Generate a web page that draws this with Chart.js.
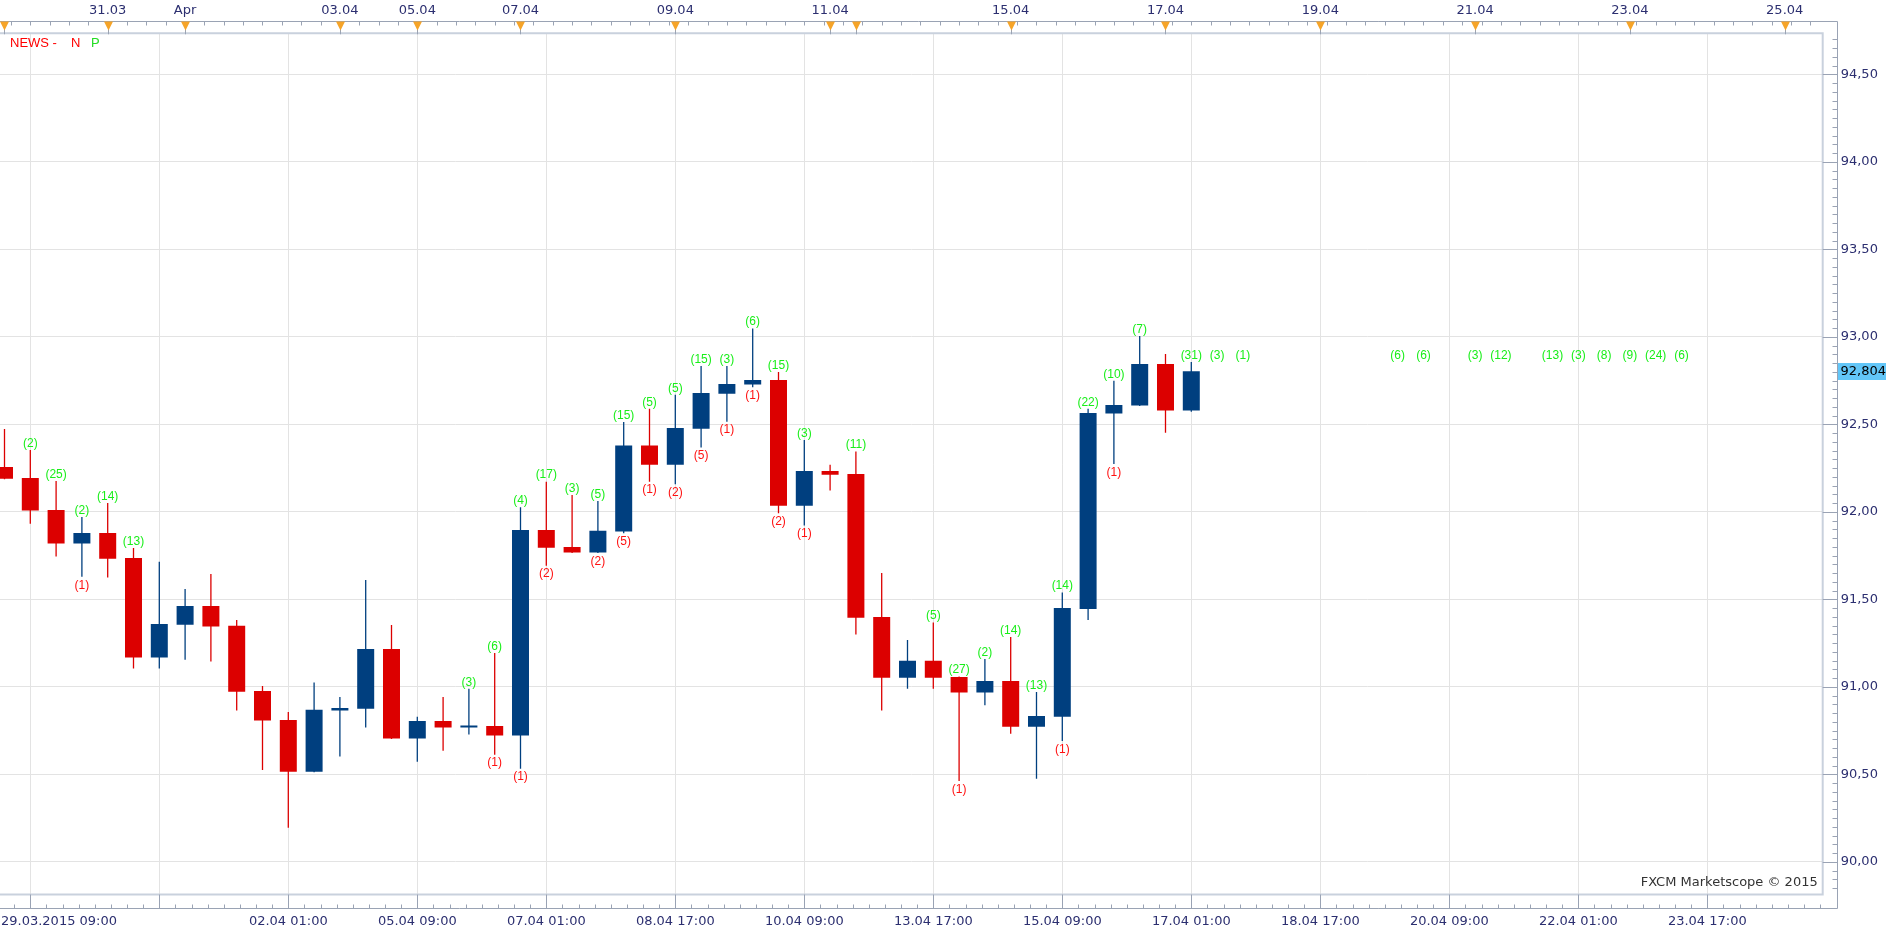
<!DOCTYPE html>
<html>
<head>
<meta charset="utf-8">
<title>NEWS - FXCM Marketscope</title>
<script src="https://cdn.jsdelivr.net/npm/chart.js@4.4.1/dist/chart.umd.min.js"></script>
<style>
html,body{margin:0;padding:0;background:#fff;overflow:hidden}
#wrap{width:1903px;height:937px;position:relative}
</style>
</head>
<body>
<div id="wrap"><canvas id="c"></canvas></div>
<script>
/* DATA (8h candles, x = candle index, first one cut off at the left edge) */
const first=-1;
const opens =[92.257,92.194,92.011,91.819,91.880,91.737,91.168,91.356,91.463,91.349,90.977,90.811,90.516,90.865,90.876,91.217,90.705,90.806,90.768,90.777,90.722,91.897,91.800,91.768,91.888,92.379,92.270,92.476,92.676,92.728,92.754,92.036,92.234,92.217,91.400,91.053,91.149,91.057,90.968,91.034,90.773,90.830,91.446,92.562,92.608,92.846,92.579];
const highs =[92.474,92.354,92.177,91.971,92.051,91.794,91.716,91.560,91.646,91.383,91.006,90.857,91.025,90.943,91.611,91.354,90.830,90.943,90.990,91.194,92.027,92.173,92.097,92.063,92.514,92.589,92.669,92.834,92.834,93.048,92.800,92.411,92.269,92.345,91.651,91.268,91.368,91.060,91.160,91.286,90.971,91.539,92.589,92.749,93.006,92.903,92.857];
const lows  =[92.187,91.933,91.745,91.630,91.625,91.105,91.105,91.156,91.145,90.865,90.526,90.196,90.513,90.602,90.768,90.703,90.573,90.636,90.728,90.613,90.533,91.693,91.766,91.765,91.878,92.173,92.158,92.368,92.516,92.712,91.992,91.922,92.122,91.299,90.865,90.990,90.990,90.463,90.895,90.733,90.476,90.691,91.383,92.274,92.605,92.453,92.573];
const closes=[92.190,92.008,91.819,91.880,91.733,91.168,91.360,91.463,91.345,90.973,90.808,90.516,90.869,90.880,91.217,90.705,90.806,90.768,90.777,90.722,91.897,91.796,91.768,91.893,92.379,92.270,92.480,92.680,92.731,92.754,92.036,92.234,92.213,91.396,91.053,91.149,91.053,90.968,91.034,90.773,90.834,91.451,92.566,92.611,92.846,92.579,92.804];
/* news counts: above the high (green) and below the low (red) */
const newsUp  =[null,2,25,2,14,13,null,null,null,null,null,null,null,null,null,null,null,null,3,6,4,17,3,5,15,5,5,15,3,6,15,3,null,11,null,null,5,27,2,14,13,14,22,10,7,null,31];
const newsDown=[null,null,null,1,null,null,null,null,null,null,null,null,null,null,null,null,null,null,null,1,1,2,null,2,5,1,2,5,1,1,2,1,null,null,null,null,null,1,null,null,null,1,null,1,null,null,null];
const futureIdx =[46,47,53,54,56,57,59,60,61,62,63,64];
const futureNews=[3,1,6,6,3,12,13,3,8,9,24,6];
/* axes */
const gridIdx=[0,5,10,15,20,25,30,35,40,45,50,55,60,65];
const bottomLabels=["29.03.2015 09:00","","02.04 01:00","05.04 09:00","07.04 01:00","08.04 17:00","10.04 09:00","13.04 17:00","15.04 09:00","17.04 01:00","18.04 17:00","20.04 09:00","22.04 01:00","23.04 17:00"];
const topIdx=[3,6,12,15,19,25,31,38,44,50,56,62,68];
const topLabels=["31.03","Apr","03.04","05.04","07.04","09.04","11.04","15.04","17.04","19.04","21.04","23.04","25.04"];
const markIdx=[-1,3,6,12,15,19,25,31,32,38,44,50,56,62,68];
const yTicks=[90,90.5,91,91.5,92,92.5,93,93.5,94,94.5];
const lastPrice=92.804;

/* STYLE */
const RED="#dc0000",BLUE="#003f7f",TXT="#2c2f70",GRID="#e3e3e3",AXIS="#9aa3b4";
const GREEN_T="#19ee19",RED_T="#ff1111";
Chart.defaults.font.family="'DejaVu Sans'";
const col=opens.map((o,i)=>closes[i]>=o?BLUE:RED);
const X=i=>first+i;

/* DECOR PLUGIN */
const decor={
 id:"decor",
 afterDatasetsDraw(chart){
  const {ctx,scales:{x,y}}=chart;
  ctx.save();
  ctx.font="12px 'Liberation Sans'";
  ctx.textAlign="center";ctx.textBaseline="middle";
  newsUp.forEach((n,i)=>{
   if(n==null)return;
   ctx.fillStyle=GREEN_T;
   ctx.fillText("("+n+")",x.getPixelForValue(X(i)),y.getPixelForValue(highs[i])-6.5);
  });
  newsDown.forEach((n,i)=>{
   if(n==null)return;
   ctx.fillStyle=RED_T;
   ctx.fillText("("+n+")",x.getPixelForValue(X(i)),y.getPixelForValue(lows[i])+8.5);
  });
  const fy=y.getPixelForValue(highs[highs.length-1])-6.5;
  futureIdx.forEach((k,j)=>{
   ctx.fillStyle=GREEN_T;
   ctx.fillText("("+futureNews[j]+")",x.getPixelForValue(k),fy);
  });
  ctx.restore();
 },
 afterDraw(chart){
  const {ctx,chartArea:a,scales:{x,y}}=chart;
  const ax=Math.round(a.right+14)+0.5, ty=21.5, by=Math.round(a.bottom+13)+0.5;
  ctx.save();
  // plot frame
  ctx.strokeStyle="#c9d1dd";ctx.lineWidth=2;
  ctx.beginPath();
  ctx.moveTo(a.left,a.top);ctx.lineTo(a.right,a.top);ctx.lineTo(a.right,a.bottom);ctx.lineTo(a.left,a.bottom);
  ctx.stroke();
  // axis lines
  ctx.strokeStyle=AXIS;ctx.lineWidth=1;
  ctx.beginPath();
  ctx.moveTo(0,ty);ctx.lineTo(ax,ty);ctx.lineTo(ax,by);ctx.lineTo(0,by);
  // price ticks
  for(let s=Math.ceil(y.min*20);s<=Math.floor(y.max*20);s++){
   const p=Math.round(y.getPixelForValue(s/20))+0.5;
   if(s%10==0){ctx.moveTo(a.right,p);ctx.lineTo(ax,p);}
   else{ctx.moveTo(ax-5,p);ctx.lineTo(ax,p);}
  }
  // bottom ticks
  gridIdx.forEach(v=>{const p=Math.round(x.getPixelForValue(v))+0.5;ctx.moveTo(p,a.bottom);ctx.lineTo(p,by);});
  for(let v=0;v<=x.max;v+=0.625){
   if(v%5==0)continue;
   const p=Math.round(x.getPixelForValue(v))+0.5;ctx.moveTo(p,by-4);ctx.lineTo(p,by);
  }
  for(let v=-0.625;v>=x.min;v-=0.625){const p=Math.round(x.getPixelForValue(v))+0.5;ctx.moveTo(p,by-4);ctx.lineTo(p,by);}
  // top ticks
  for(let v=3-0.75*5;v<=x.max;v+=0.75){
   const p=Math.round(x.getPixelForValue(v))+0.5;
   if(p<0)continue;
   ctx.moveTo(p,ty);ctx.lineTo(p,ty+4);
  }
  ctx.stroke();
  // news markers
  markIdx.forEach(v=>{
   const p=Math.round(x.getPixelForValue(v))+0.5;
   ctx.strokeStyle=AXIS;ctx.beginPath();ctx.moveTo(p,ty);ctx.lineTo(p,a.top+1);ctx.stroke();
   ctx.fillStyle="#f6a428";
   ctx.beginPath();ctx.moveTo(p-4.5,ty);ctx.lineTo(p+4.5,ty);ctx.lineTo(p,ty+9);ctx.closePath();ctx.fill();
  });
  // axis texts
  ctx.fillStyle=TXT;ctx.font="13px 'DejaVu Sans'";ctx.textBaseline="middle";
  bottomLabels.forEach((t,i)=>{
   if(!t)return;
   const w=ctx.measureText(t).width;
   const p=Math.max(x.getPixelForValue(gridIdx[i])-w/2,1);
   ctx.textAlign="left";ctx.fillText(t,p,922);
  });
  ctx.textAlign="center";
  topLabels.forEach((t,i)=>ctx.fillText(t,x.getPixelForValue(topIdx[i]),11));
  // last price box
  const lp=y.getPixelForValue(lastPrice);
  ctx.fillStyle="#62c6f8";ctx.fillRect(ax+0.5,Math.round(lp-8.5),48,17);
  ctx.fillStyle="#000";ctx.textAlign="left";
  ctx.fillText(lastPrice.toFixed(3).replace(".",","),ax+3,lp);
  // captions
  ctx.font="13px 'Liberation Sans'";
  ctx.fillStyle="#ff0000";ctx.fillText("NEWS -",10,43);ctx.fillText("N",71,43);
  ctx.fillStyle="#22dd22";ctx.fillText("P",91,43);
  ctx.font="13px 'DejaVu Sans'";ctx.fillStyle="#333";ctx.textAlign="right";
  ctx.fillText("FXCM Marketscope \u00a9 2015",a.right-5,883);
  ctx.restore();
 }
};

/* CHART */
new Chart(document.getElementById("c"),{
 type:"bar",
 data:{datasets:[
  {data:opens.map((o,i)=>({x:X(i),y:[lows[i],highs[i]]})),backgroundColor:col,barThickness:1.3,grouped:false,inflateAmount:0,order:2},
  {data:opens.map((o,i)=>({x:X(i),y:[o,closes[i]]})),backgroundColor:col,barThickness:17,grouped:false,inflateAmount:0,minBarLength:2,order:1}
 ]},
 options:{
  responsive:true,maintainAspectRatio:false,animation:false,devicePixelRatio:1,events:[],
  layout:{padding:{top:33.3,left:0,right:0,bottom:0}},
  plugins:{legend:{display:false},tooltip:{enabled:false}},
  scales:{
   x:{type:"linear",min:-1.1744,max:69.473,offset:false,
    grid:{color:GRID,drawTicks:false,offset:false},border:{display:false},
    ticks:{display:false},
    afterBuildTicks:s=>{s.ticks=gridIdx.map(v=>({value:v}));},
    afterFit:s=>{s.height=42.5;s.paddingLeft=0;s.paddingRight=0;}},
   y:{position:"right",min:89.814,max:94.735,beginAtZero:false,
    grid:{color:GRID,drawTicks:false},border:{display:false},
    ticks:{padding:18,color:TXT,font:{size:13},callback:v=>v.toFixed(2).replace(".",",")},
    afterBuildTicks:s=>{s.ticks=yTicks.map(v=>({value:v}));},
    afterFit:s=>{s.width=80.3;s.paddingTop=0;s.paddingBottom=0;}}
  }
 },
 plugins:[decor]
});
</script>
</body>
</html>
